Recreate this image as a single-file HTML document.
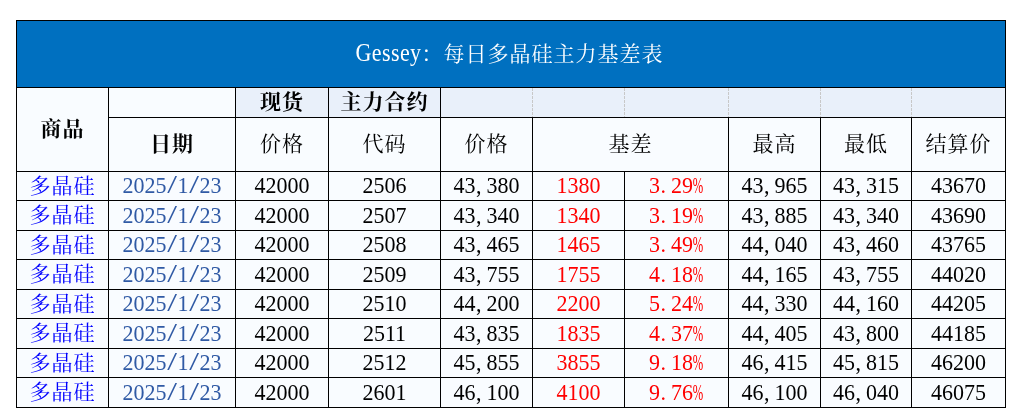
<!DOCTYPE html>
<html lang="zh-CN"><head><meta charset="utf-8"><title>Gessey：每日多晶硅主力基差表</title>
<style>
*{margin:0;padding:0;box-sizing:border-box}
html,body{width:1026px;height:420px;background:#fff;overflow:hidden}
body{position:relative;font-family:"Liberation Serif","Noto Serif CJK SC",serif;font-size:22px;color:#000}
.c{position:absolute;display:flex;align-items:center;justify-content:center;white-space:nowrap;background:#f9fcff;line-height:1}
.h{background:#e9f0fa}
.b{font-weight:700}
.ln{position:absolute;background:#000}
.d{position:absolute;width:1px;background:repeating-linear-gradient(to bottom,#c8c8c8 0,#c8c8c8 3px,transparent 3px,transparent 4px)}
.blue{color:#0000ff}
.date{color:#305aa5}
.red{color:#ff0000}
i{font-style:normal}
.p{display:inline-block;width:0.5em;text-align:left;padding-left:.6px}
.pc{display:inline-block;transform:translateX(-1.2px) scale(.57,1.04);transform-origin:0 70%}
.n{display:inline-block;transform:translateY(-.5px) scaleY(1.03);transform-origin:50% 50%}
.k{font-size:21px;letter-spacing:1px}
.m{display:inline-block;font-size:22px;letter-spacing:.4px;margin-right:0;transform:scale(1,1.12);transform-origin:50% 83.75%}
.t{color:#fff;background:#0070c0}
.g{display:inline-block;width:11px;text-align:center}
.gg{display:inline-block;transform:scaleX(.72);transform-origin:50% 50%;margin:0 -.111em}
.lc{display:inline-block;transform-origin:50% 83.75%}
.gg{transform:scale(.72,1.06);transform-origin:50% 83.75%}
.s{display:inline-block;width:.5em;text-align:center}
.ss{display:inline-block;transform:scale(1.6,1.08);transform-origin:50% 60%}
</style></head>
<body>
<div class="c t" style="left:17px;top:21px;width:988px;height:66px;padding-right:3px"><span class="m">Gessey</span><span class="k">：每日多晶硅主力基差表</span></div>
<div class="c b k" style="left:17px;top:88px;width:91px;height:83px;">商品</div>
<div class="c " style="left:109px;top:88px;width:126px;height:29px;"></div>
<div class="c h b k" style="left:236px;top:88px;width:92px;height:29px;">现货</div>
<div class="c h b k" style="left:329px;top:88px;width:111px;height:29px;">主力合约</div>
<div class="c h" style="left:441px;top:88px;width:564px;height:29px;"></div>
<div class="c b k" style="left:109px;top:118px;width:126px;height:53px;">日期</div>
<div class="c k" style="left:236px;top:118px;width:92px;height:53px;">价格</div>
<div class="c k" style="left:329px;top:118px;width:111px;height:53px;">代码</div>
<div class="c k" style="left:441px;top:118px;width:91px;height:53px;">价格</div>
<div class="c k" style="left:533px;top:118px;width:195px;height:53px;">基差</div>
<div class="c k" style="left:729px;top:118px;width:91px;height:53px;">最高</div>
<div class="c k" style="left:821px;top:118px;width:90px;height:53px;">最低</div>
<div class="c k" style="left:912px;top:118px;width:93px;height:53px;">结算价</div>
<div class="c blue k" style="left:17px;top:172px;width:91px;height:28px;">多晶硅</div>
<div class="c date" style="left:109px;top:172px;width:126px;height:28px;"><span class="n">2025<i class="s"><i class="ss">/</i></i>1<i class="s"><i class="ss">/</i></i>23</span></div>
<div class="c " style="left:236px;top:172px;width:92px;height:28px;"><span class="n">42000</span></div>
<div class="c " style="left:329px;top:172px;width:111px;height:28px;"><span class="n">2506</span></div>
<div class="c " style="left:441px;top:172px;width:91px;height:28px;"><span class="n">43<i class="p">,</i>380</span></div>
<div class="c red" style="left:533px;top:172px;width:91px;height:28px;"><span class="n">1380</span></div>
<div class="c red" style="left:625px;top:172px;width:103px;height:28px;"><span class="n">3<i class="p">.</i>29<i class="p"><i class="pc">%</i></i></span></div>
<div class="c " style="left:729px;top:172px;width:91px;height:28px;"><span class="n">43<i class="p">,</i>965</span></div>
<div class="c " style="left:821px;top:172px;width:90px;height:28px;"><span class="n">43<i class="p">,</i>315</span></div>
<div class="c " style="left:912px;top:172px;width:93px;height:28px;"><span class="n">43670</span></div>
<div class="c blue k" style="left:17px;top:201px;width:91px;height:29px;">多晶硅</div>
<div class="c date" style="left:109px;top:201px;width:126px;height:29px;"><span class="n">2025<i class="s"><i class="ss">/</i></i>1<i class="s"><i class="ss">/</i></i>23</span></div>
<div class="c " style="left:236px;top:201px;width:92px;height:29px;"><span class="n">42000</span></div>
<div class="c " style="left:329px;top:201px;width:111px;height:29px;"><span class="n">2507</span></div>
<div class="c " style="left:441px;top:201px;width:91px;height:29px;"><span class="n">43<i class="p">,</i>340</span></div>
<div class="c red" style="left:533px;top:201px;width:91px;height:29px;"><span class="n">1340</span></div>
<div class="c red" style="left:625px;top:201px;width:103px;height:29px;"><span class="n">3<i class="p">.</i>19<i class="p"><i class="pc">%</i></i></span></div>
<div class="c " style="left:729px;top:201px;width:91px;height:29px;"><span class="n">43<i class="p">,</i>885</span></div>
<div class="c " style="left:821px;top:201px;width:90px;height:29px;"><span class="n">43<i class="p">,</i>340</span></div>
<div class="c " style="left:912px;top:201px;width:93px;height:29px;"><span class="n">43690</span></div>
<div class="c blue k" style="left:17px;top:231px;width:91px;height:28px;">多晶硅</div>
<div class="c date" style="left:109px;top:231px;width:126px;height:28px;"><span class="n">2025<i class="s"><i class="ss">/</i></i>1<i class="s"><i class="ss">/</i></i>23</span></div>
<div class="c " style="left:236px;top:231px;width:92px;height:28px;"><span class="n">42000</span></div>
<div class="c " style="left:329px;top:231px;width:111px;height:28px;"><span class="n">2508</span></div>
<div class="c " style="left:441px;top:231px;width:91px;height:28px;"><span class="n">43<i class="p">,</i>465</span></div>
<div class="c red" style="left:533px;top:231px;width:91px;height:28px;"><span class="n">1465</span></div>
<div class="c red" style="left:625px;top:231px;width:103px;height:28px;"><span class="n">3<i class="p">.</i>49<i class="p"><i class="pc">%</i></i></span></div>
<div class="c " style="left:729px;top:231px;width:91px;height:28px;"><span class="n">44<i class="p">,</i>040</span></div>
<div class="c " style="left:821px;top:231px;width:90px;height:28px;"><span class="n">43<i class="p">,</i>460</span></div>
<div class="c " style="left:912px;top:231px;width:93px;height:28px;"><span class="n">43765</span></div>
<div class="c blue k" style="left:17px;top:260px;width:91px;height:29px;">多晶硅</div>
<div class="c date" style="left:109px;top:260px;width:126px;height:29px;"><span class="n">2025<i class="s"><i class="ss">/</i></i>1<i class="s"><i class="ss">/</i></i>23</span></div>
<div class="c " style="left:236px;top:260px;width:92px;height:29px;"><span class="n">42000</span></div>
<div class="c " style="left:329px;top:260px;width:111px;height:29px;"><span class="n">2509</span></div>
<div class="c " style="left:441px;top:260px;width:91px;height:29px;"><span class="n">43<i class="p">,</i>755</span></div>
<div class="c red" style="left:533px;top:260px;width:91px;height:29px;"><span class="n">1755</span></div>
<div class="c red" style="left:625px;top:260px;width:103px;height:29px;"><span class="n">4<i class="p">.</i>18<i class="p"><i class="pc">%</i></i></span></div>
<div class="c " style="left:729px;top:260px;width:91px;height:29px;"><span class="n">44<i class="p">,</i>165</span></div>
<div class="c " style="left:821px;top:260px;width:90px;height:29px;"><span class="n">43<i class="p">,</i>755</span></div>
<div class="c " style="left:912px;top:260px;width:93px;height:29px;"><span class="n">44020</span></div>
<div class="c blue k" style="left:17px;top:290px;width:91px;height:28px;">多晶硅</div>
<div class="c date" style="left:109px;top:290px;width:126px;height:28px;"><span class="n">2025<i class="s"><i class="ss">/</i></i>1<i class="s"><i class="ss">/</i></i>23</span></div>
<div class="c " style="left:236px;top:290px;width:92px;height:28px;"><span class="n">42000</span></div>
<div class="c " style="left:329px;top:290px;width:111px;height:28px;"><span class="n">2510</span></div>
<div class="c " style="left:441px;top:290px;width:91px;height:28px;"><span class="n">44<i class="p">,</i>200</span></div>
<div class="c red" style="left:533px;top:290px;width:91px;height:28px;"><span class="n">2200</span></div>
<div class="c red" style="left:625px;top:290px;width:103px;height:28px;"><span class="n">5<i class="p">.</i>24<i class="p"><i class="pc">%</i></i></span></div>
<div class="c " style="left:729px;top:290px;width:91px;height:28px;"><span class="n">44<i class="p">,</i>330</span></div>
<div class="c " style="left:821px;top:290px;width:90px;height:28px;"><span class="n">44<i class="p">,</i>160</span></div>
<div class="c " style="left:912px;top:290px;width:93px;height:28px;"><span class="n">44205</span></div>
<div class="c blue k" style="left:17px;top:319px;width:91px;height:29px;">多晶硅</div>
<div class="c date" style="left:109px;top:319px;width:126px;height:29px;"><span class="n">2025<i class="s"><i class="ss">/</i></i>1<i class="s"><i class="ss">/</i></i>23</span></div>
<div class="c " style="left:236px;top:319px;width:92px;height:29px;"><span class="n">42000</span></div>
<div class="c " style="left:329px;top:319px;width:111px;height:29px;"><span class="n">2511</span></div>
<div class="c " style="left:441px;top:319px;width:91px;height:29px;"><span class="n">43<i class="p">,</i>835</span></div>
<div class="c red" style="left:533px;top:319px;width:91px;height:29px;"><span class="n">1835</span></div>
<div class="c red" style="left:625px;top:319px;width:103px;height:29px;"><span class="n">4<i class="p">.</i>37<i class="p"><i class="pc">%</i></i></span></div>
<div class="c " style="left:729px;top:319px;width:91px;height:29px;"><span class="n">44<i class="p">,</i>405</span></div>
<div class="c " style="left:821px;top:319px;width:90px;height:29px;"><span class="n">43<i class="p">,</i>800</span></div>
<div class="c " style="left:912px;top:319px;width:93px;height:29px;"><span class="n">44185</span></div>
<div class="c blue k" style="left:17px;top:349px;width:91px;height:28px;">多晶硅</div>
<div class="c date" style="left:109px;top:349px;width:126px;height:28px;"><span class="n">2025<i class="s"><i class="ss">/</i></i>1<i class="s"><i class="ss">/</i></i>23</span></div>
<div class="c " style="left:236px;top:349px;width:92px;height:28px;"><span class="n">42000</span></div>
<div class="c " style="left:329px;top:349px;width:111px;height:28px;"><span class="n">2512</span></div>
<div class="c " style="left:441px;top:349px;width:91px;height:28px;"><span class="n">45<i class="p">,</i>855</span></div>
<div class="c red" style="left:533px;top:349px;width:91px;height:28px;"><span class="n">3855</span></div>
<div class="c red" style="left:625px;top:349px;width:103px;height:28px;"><span class="n">9<i class="p">.</i>18<i class="p"><i class="pc">%</i></i></span></div>
<div class="c " style="left:729px;top:349px;width:91px;height:28px;"><span class="n">46<i class="p">,</i>415</span></div>
<div class="c " style="left:821px;top:349px;width:90px;height:28px;"><span class="n">45<i class="p">,</i>815</span></div>
<div class="c " style="left:912px;top:349px;width:93px;height:28px;"><span class="n">46200</span></div>
<div class="c blue k" style="left:17px;top:378px;width:91px;height:29px;">多晶硅</div>
<div class="c date" style="left:109px;top:378px;width:126px;height:29px;"><span class="n">2025<i class="s"><i class="ss">/</i></i>1<i class="s"><i class="ss">/</i></i>23</span></div>
<div class="c " style="left:236px;top:378px;width:92px;height:29px;"><span class="n">42000</span></div>
<div class="c " style="left:329px;top:378px;width:111px;height:29px;"><span class="n">2601</span></div>
<div class="c " style="left:441px;top:378px;width:91px;height:29px;"><span class="n">46<i class="p">,</i>100</span></div>
<div class="c red" style="left:533px;top:378px;width:91px;height:29px;"><span class="n">4100</span></div>
<div class="c red" style="left:625px;top:378px;width:103px;height:29px;"><span class="n">9<i class="p">.</i>76<i class="p"><i class="pc">%</i></i></span></div>
<div class="c " style="left:729px;top:378px;width:91px;height:29px;"><span class="n">46<i class="p">,</i>100</span></div>
<div class="c " style="left:821px;top:378px;width:90px;height:29px;"><span class="n">46<i class="p">,</i>040</span></div>
<div class="c " style="left:912px;top:378px;width:93px;height:29px;"><span class="n">46075</span></div>
<div class="ln" style="left:16px;top:20px;width:990px;height:1px"></div>
<div class="ln" style="left:16px;top:87px;width:990px;height:1px"></div>
<div class="ln" style="left:108px;top:117px;width:898px;height:1px"></div>
<div class="ln" style="left:16px;top:171px;width:990px;height:1px"></div>
<div class="ln" style="left:16px;top:200px;width:990px;height:1px"></div>
<div class="ln" style="left:16px;top:230px;width:990px;height:1px"></div>
<div class="ln" style="left:16px;top:259px;width:990px;height:1px"></div>
<div class="ln" style="left:16px;top:289px;width:990px;height:1px"></div>
<div class="ln" style="left:16px;top:318px;width:990px;height:1px"></div>
<div class="ln" style="left:16px;top:348px;width:990px;height:1px"></div>
<div class="ln" style="left:16px;top:377px;width:990px;height:1px"></div>
<div class="ln" style="left:16px;top:407px;width:990px;height:1px"></div>
<div class="ln" style="left:16px;top:20px;width:1px;height:388px"></div>
<div class="ln" style="left:1005px;top:20px;width:1px;height:388px"></div>
<div class="ln" style="left:108px;top:87px;width:1px;height:321px"></div>
<div class="ln" style="left:235px;top:87px;width:1px;height:321px"></div>
<div class="ln" style="left:328px;top:87px;width:1px;height:321px"></div>
<div class="ln" style="left:440px;top:87px;width:1px;height:321px"></div>
<div class="ln" style="left:532px;top:117px;width:1px;height:291px"></div>
<div class="ln" style="left:728px;top:117px;width:1px;height:291px"></div>
<div class="ln" style="left:820px;top:117px;width:1px;height:291px"></div>
<div class="ln" style="left:911px;top:117px;width:1px;height:291px"></div>
<div class="ln" style="left:624px;top:171px;width:1px;height:237px"></div>
<div class="d" style="left:532px;top:88px;height:29px"></div>
<div class="d" style="left:624px;top:88px;height:29px"></div>
<div class="d" style="left:728px;top:88px;height:29px"></div>
<div class="d" style="left:820px;top:88px;height:29px"></div>
<div class="d" style="left:911px;top:88px;height:29px"></div>
</body></html>
